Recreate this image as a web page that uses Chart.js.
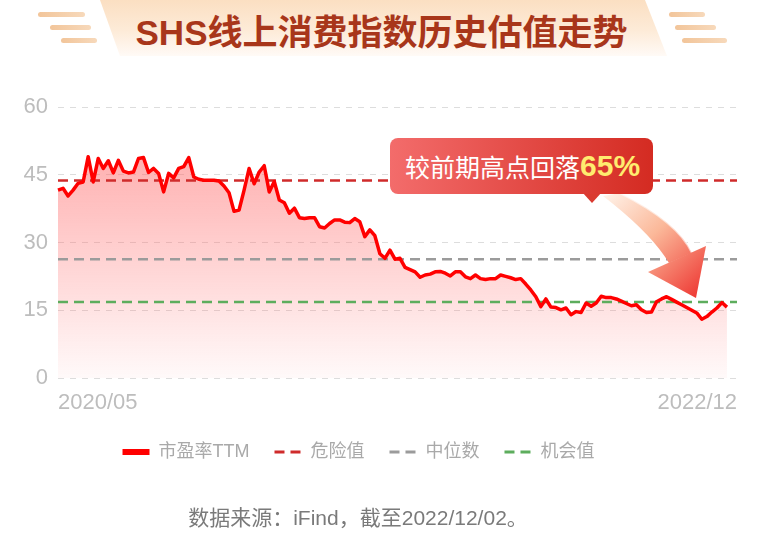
<!DOCTYPE html>
<html lang="zh-CN">
<head>
<meta charset="utf-8">
<title>SHS线上消费指数历史估值走势</title>
<script src="https://cdn.jsdelivr.net/npm/chart.js@4.4.1/dist/chart.umd.min.js"></script>
<style>
  html, body { margin: 0; padding: 0; background: #fff; }
  body { width: 763px; height: 534px; position: relative; overflow: hidden;
         font-family: "Liberation Sans", "Noto Sans CJK SC", sans-serif; }
  .banner { position: absolute; left: 100px; top: 0; width: 567px; height: 56px;
            clip-path: polygon(0 0, 545px 0, 567px 56px, 20px 56px);
            background: linear-gradient(180deg, #fbdfc2 0%, #fdebd8 55%, #fffaf6 100%); }
  .title { position: absolute; left: 0; top: 13px; width: 763px; text-align: center;
           font-size: 35px; line-height: 40px; font-weight: bold; color: #a8361a; }
  .stripe { position: absolute; height: 5px; border-radius: 3px;
            background: linear-gradient(90deg, #f2c59a, #f7d9bb); }
  #c { position: absolute; left: -20px; top: 0; }
  .overlay { position: absolute; left: 0; top: 0; pointer-events: none; }
  .note { position: absolute; left: 390px; top: 138px; width: 263px; height: 56px; box-sizing: border-box;
          padding-left: 15px; border-radius: 8px; display: flex; align-items: center;
          background: linear-gradient(90deg, #f36c6b, #d42b22);
          color: #fff; font-size: 25px; font-family: "Noto Sans CJK SC", sans-serif; }
  .note b { font-family: "Liberation Sans", sans-serif; font-size: 30px; color: #ffec6f; }
  .source { position: absolute; left: 0; top: 505px; width: 716px; text-align: center;
            font-size: 21px; line-height: 26px; color: #7a7a7a; }
</style>
</head>
<body>
<div class="banner"></div>
<div class="stripe" style="left:38px;top:12px;width:47px"></div>
<div class="stripe" style="left:50px;top:25px;width:41px"></div>
<div class="stripe" style="left:61px;top:38px;width:36px"></div>
<div class="stripe" style="left:669px;top:12px;width:36px"></div>
<div class="stripe" style="left:675px;top:25px;width:41px"></div>
<div class="stripe" style="left:682px;top:38px;width:45px"></div>
<div class="title">SHS线上消费指数历史估值走势</div>

<canvas id="c" width="783" height="534"></canvas>

<svg class="overlay" width="763" height="534">
  <defs>
    <linearGradient id="ag" gradientUnits="userSpaceOnUse" x1="605" y1="195" x2="700" y2="295">
      <stop offset="0" stop-color="#fff2e8"/>
      <stop offset="0.45" stop-color="#fbb899"/>
      <stop offset="1" stop-color="#ee3934"/>
    </linearGradient>
  </defs>
  <path d="M603,196 Q651,233 669,263 L692,253 Q678,222 620,193 Z" fill="url(#ag)"/>
  <path d="M620,193 Q678,222 692,253" fill="none" stroke="#fff" stroke-opacity="0.6" stroke-width="2"/>
  <polygon points="648,272 706,246 696,298" fill="url(#ag)"/>
  <polygon points="582,192 602,192 592,203" fill="#da3a30"/>
</svg>
<div class="note">较前期高点回落<b>65%</b></div>

<div class="source">数据来源：iFind，截至2022/12/02。</div>

<script>
// 市盈率TTM, weekly, 2020/05 - 2022/12
const peTTM = [
  41.6, 42.0, 40.3, 41.6, 43.1, 43.4, 49.0, 43.4, 48.6, 46.4,
  48.1, 45.4, 48.2, 45.8, 45.4, 45.6, 48.6, 48.8, 45.5, 46.4,
  45.3, 41.2, 45.3, 44.3, 46.4, 46.8, 48.8, 44.5, 44.0, 43.8,
  43.8, 43.8, 43.6, 42.5, 41.0, 36.9, 37.2, 41.6, 46.4, 43.0,
  45.6, 47.0, 41.2, 43.5, 39.4, 38.8, 36.5, 37.6, 35.5, 35.3,
  35.5, 35.5, 33.5, 33.2, 34.2, 35.0, 35.0, 34.5, 34.4, 35.3,
  34.6, 31.3, 32.8, 31.5, 27.5, 26.5, 28.3, 26.3, 26.5, 24.5,
  24.0, 23.5, 22.3, 22.8, 23.0, 23.5, 23.6, 23.2, 22.6, 23.5,
  23.5, 22.4, 22.0, 22.8, 22.0, 21.8, 22.0, 22.0, 22.8, 22.5,
  22.2, 21.8, 22.0, 20.8, 19.5, 18.0, 15.8, 17.5, 15.7, 15.6,
  15.1, 15.5, 14.0, 14.7, 14.5, 16.6, 15.9, 16.6, 18.1, 17.8,
  17.8, 17.5, 17.0, 16.5, 16.0, 16.2, 15.1, 14.5, 14.6, 16.9,
  17.5, 18.0, 17.4, 16.8, 16.2, 15.6, 15.0, 14.4, 13.0, 13.6,
  14.6, 15.5, 16.7, 15.7
];
const dangerLevel = 43.7;   // 危险值
const medianLevel = 26.3;   // 中位数
const chanceLevel = 16.8;   // 机会值
const tickLabels = ['2020/05', '2022/12'];
const yTicks = [0, 15, 30, 45, 60];

const FONT = '"Liberation Sans", "Noto Sans CJK SC", sans-serif';

// two empty slots after the last week so the axis runs a bit past the data
const slots = peTTM.length + 2;
const labels = [];
for (let i = 0; i < slots; i++) {
  labels.push(i === 0 ? tickLabels[0] : (i === slots - 1 ? tickLabels[1] : ''));
}
const flat = (v) => labels.map(() => v);

const refLine = (label, value, color) => ({
  label: label,
  data: flat(value),
  borderColor: color,
  borderWidth: 2.5,
  borderDash: [10, 6],
  pointRadius: 0,
  fill: false,
});

new Chart(document.getElementById('c'), {
  type: 'line',
  data: {
    labels: labels,
    datasets: [
      {
        label: '市盈率TTM',
        data: peTTM,
        borderColor: '#ff0000',
        borderWidth: 3.5,
        borderJoinStyle: 'round',
        pointRadius: 0,
        tension: 0,
        fill: 'origin',
        backgroundColor: (c) => {
          const area = c.chart.chartArea;
          if (!area) return 'rgba(255,110,110,0.3)';
          const g = c.chart.ctx.createLinearGradient(0, area.top, 0, area.bottom);
          g.addColorStop(0, 'rgba(255,110,110,0.65)');
          g.addColorStop(1, 'rgba(255,110,110,0.04)');
          return g;
        },
      },
      refLine('危险值', dangerLevel, '#cf2b2b'),
      refLine('中位数', medianLevel, '#9b9b9b'),
      refLine('机会值', chanceLevel, '#5dad5d'),
    ],
  },
  options: {
    responsive: false,
    animation: false,
    layout: { padding: { top: 107, right: 26, bottom: 63, left: 0 } },
    scales: {
      x: {
        grid: { display: false, drawTicks: false },
        border: { display: false },
        afterFit: (s) => { s.height = 40; },
        ticks: {
          autoSkip: false,
          maxRotation: 0,
          align: 'inner',
          padding: 12,
          color: '#bdbdbd',
          font: { family: FONT, size: 22 },
        },
      },
      y: {
        min: yTicks[0],
        max: yTicks[yTicks.length - 1],
        afterFit: (s) => { s.width = 78; },
        afterBuildTicks: (s) => { s.ticks = yTicks.map(v => ({ value: v })); },
        grid: { color: '#dddddd', lineWidth: 1, drawTicks: false },
        border: { display: false, dash: [6, 6] },
        ticks: {
          padding: 10,
          color: '#bdbdbd',
          font: { family: FONT, size: 22 },
        },
      },
    },
    plugins: {
      filler: { drawTime: 'beforeDatasetsDraw' },
      tooltip: { enabled: false },
      title: { display: false },
      legend: {
        position: 'bottom',
        labels: {
          usePointStyle: true,
          pointStyleWidth: 27,
          padding: 25,
          color: '#a9a9a9',
          font: { family: FONT, size: 18 },
          generateLabels: (chart) => chart.data.datasets.map((ds, i) => ({
            text: ds.label,
            datasetIndex: i,
            hidden: false,
            fillStyle: ds.borderColor,
            strokeStyle: ds.borderColor,
            lineWidth: i === 0 ? 6 : 3,
            lineDash: ds.borderDash || [],
            lineCap: 'butt',
            pointStyle: 'line',
            fontColor: '#a9a9a9',
          })),
        },
      },
    },
  },
});
</script>
</body>
</html>
